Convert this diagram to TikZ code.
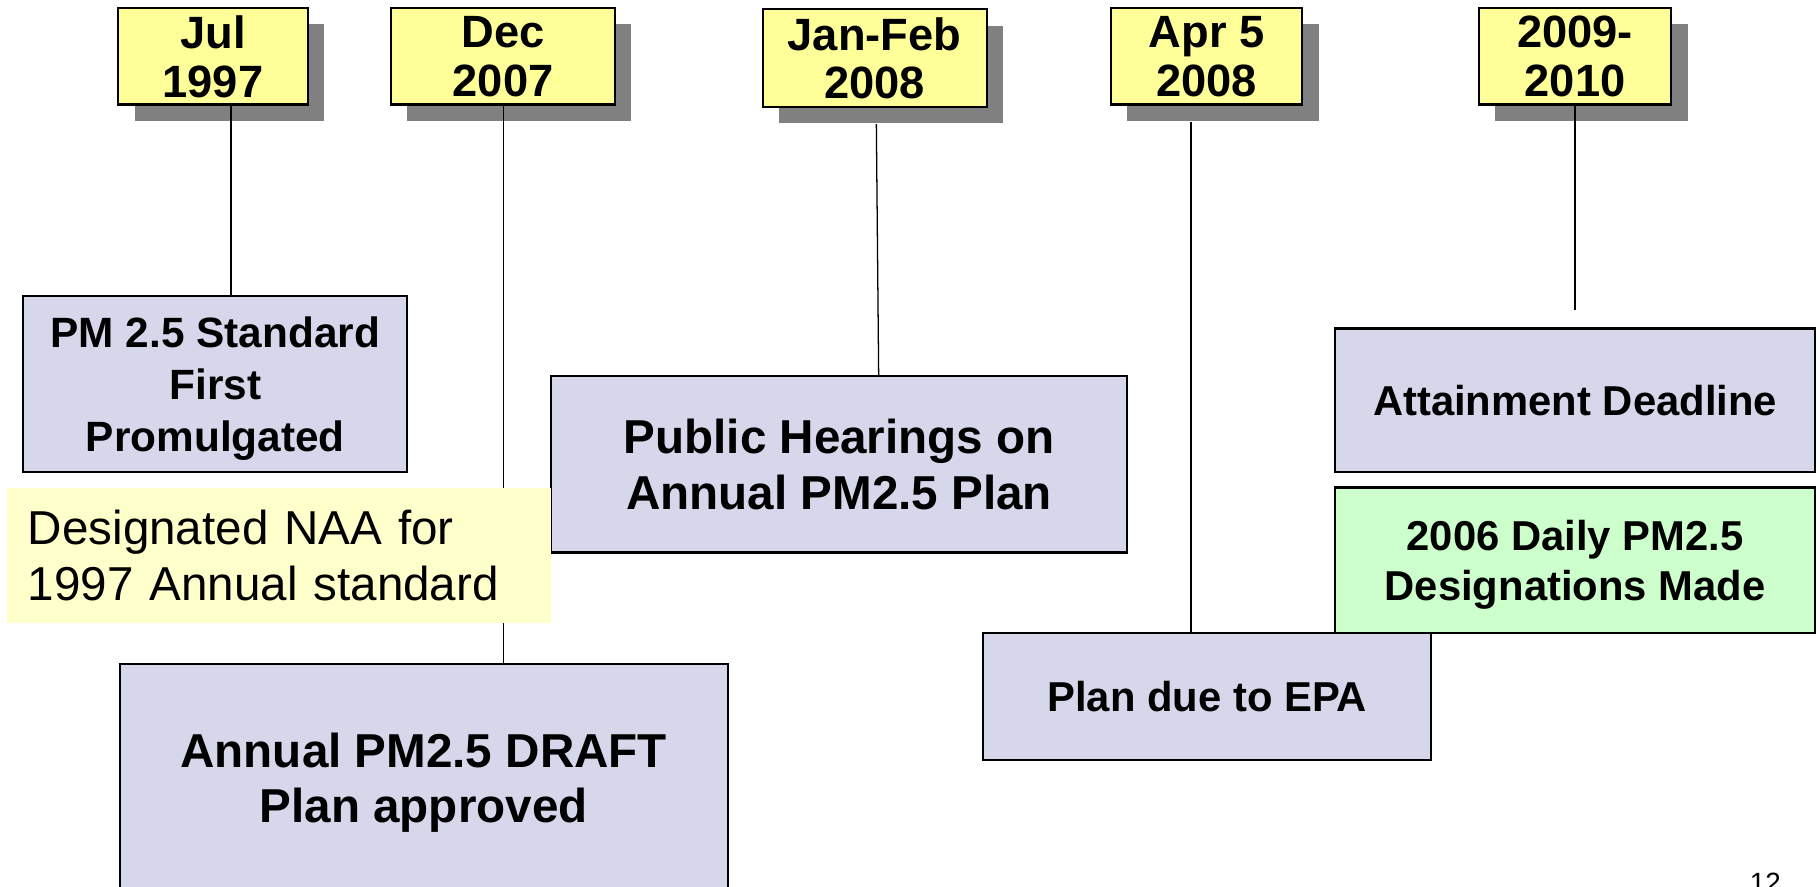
\documentclass[tikz,border=0pt]{standalone}
\usepackage{fontspec}
\setmainfont{Liberation Sans}
\usetikzlibrary{shadows}
\definecolor{dateyellow}{HTML}{FFFF99}
\definecolor{naayellow}{HTML}{FFFFCC}
\definecolor{lav}{HTML}{D7D7EB}
\definecolor{mint}{HTML}{CCFFCC}
\definecolor{shade}{HTML}{808080}
\begin{document}
\begin{tikzpicture}[x=1pt,y=-1pt,
  datebox/.style={draw, line width=1.8pt, fill=dateyellow,
    drop shadow={fill=shade, opacity=1, shadow xshift=14pt, shadow yshift=-14pt},
    inner sep=0pt, align=center, text depth=-4pt,
    font=\fontsize{39}{42}\selectfont\bfseries},
  evbox/.style={draw, line width=1.8pt, fill=lav, inner sep=0pt, align=center},
  conn/.style={line width=1.1pt}]
\useasboundingbox (0,0) rectangle (1568,764);
\clip (0,0) rectangle (1568,764);
% date boxes
\node[datebox, minimum width=163pt, minimum height=83pt] (jul) at (183.5,48.5) {Jul\\1997};
\node[datebox, minimum width=193pt, minimum height=83pt] (dec) at (433.5,48.5) {Dec\\2007};
\node[datebox, minimum width=193pt, minimum height=84pt] (jan) at (753.5,50) {Jan-Feb\\2008};
\node[datebox, minimum width=165pt, minimum height=83pt] (apr) at (1039.5,48.5) {Apr 5\\2008};
\node[datebox, minimum width=166pt, minimum height=83pt] (y09) at (1357,48.5) {2009-\\2010};
% event boxes
\node[evbox, minimum width=331pt, minimum height=152pt, text depth=0pt,
  font=\fontsize{36.5}{44.5}\selectfont\bfseries] (pm) at (185.5,331)
  {PM 2.5 Standard\\First\\Promulgated};
\node[evbox, minimum width=496pt, minimum height=152pt,
  font=\fontsize{41}{48}\selectfont\bfseries] (pub) at (723,400)
  {Public Hearings on\\Annual PM2.5 Plan};
\node[evbox, minimum width=524pt, minimum height=196pt, text depth=0pt,
  font=\fontsize{41}{48}\selectfont\bfseries] (draft) at (365,670)
  {Annual PM2.5 DRAFT\\Plan approved};
\node[evbox, minimum width=414pt, minimum height=124pt,
  font=\fontsize{36}{43}\selectfont\bfseries] (att) at (1357,345)
  {Attainment Deadline};
\node[evbox, fill=mint, minimum width=414pt, minimum height=125pt, text depth=0pt,
  font=\fontsize{36}{43}\selectfont\bfseries] (green) at (1357,482.5)
  {2006 Daily PM2.5\\Designations Made};
\node[evbox, minimum width=386pt, minimum height=110pt,
  font=\fontsize{36}{43}\selectfont\bfseries] (plan) at (1040,600)
  {Plan due to EPA};
% connectors
\draw[conn] ([xshift=15.5pt]jul.south) -- ([xshift=13.5pt]pm.north);
\draw[conn] (dec.south) -- (dec.south |- draft.north);
\draw[conn] ([xshift=1.5pt,yshift=-14pt]jan.south) -- ([xshift=34pt]pub.north);
\draw[conn] ([xshift=-13.5pt,yshift=-14pt]apr.south) -- ([xshift=-14pt]plan.north);
\coordinate (attend) at ([yshift=15pt]att.north);
\draw[conn] (y09.south) -- (attend);
% note box (covers the Dec connector)
\node[fill=naayellow, minimum width=469pt, minimum height=117pt,
  text width=433pt, inner xsep=18pt, inner ysep=0pt, align=left,
  font=\fontsize{41}{48}\selectfont] (naa) at (240.5,478.5)
  {Designated NAA for\\1997 Annual standard};
% page number
\node[anchor=base, inner sep=0pt, font=\fontsize{24}{24}\selectfont] (pg) at (1521,769) {12};
\end{tikzpicture}
\end{document}
